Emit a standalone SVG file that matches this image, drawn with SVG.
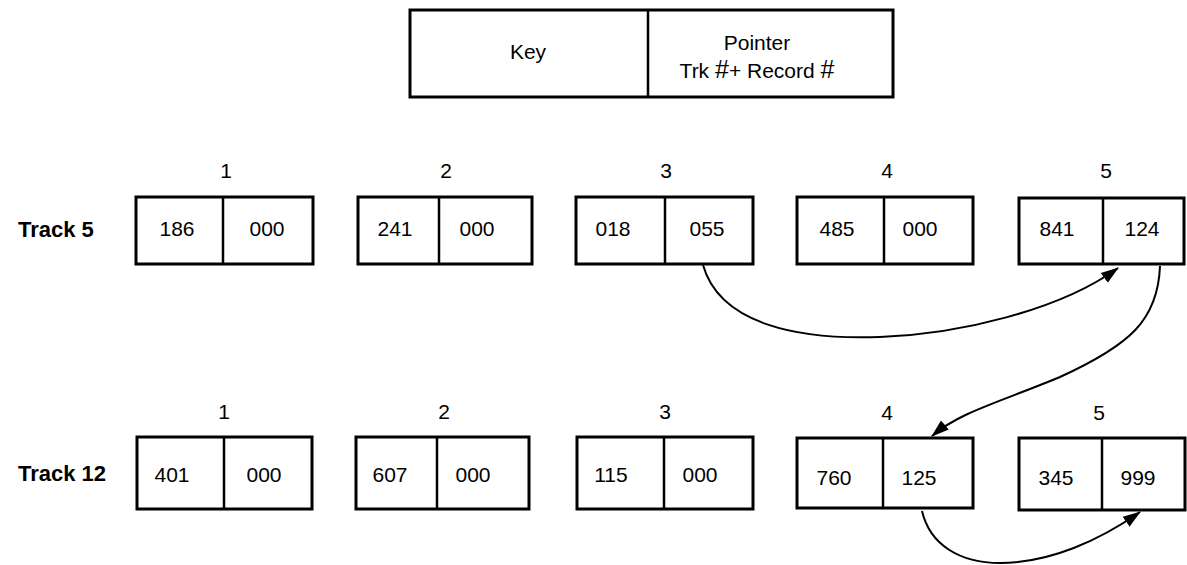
<svg xmlns="http://www.w3.org/2000/svg" width="1187" height="565" viewBox="0 0 1187 565">
  <style>
    .box { fill: #fff; stroke: #000; stroke-width: 3; }
    .div { stroke: #000; stroke-width: 2.5; }
    .t { font-family: "Liberation Sans", Arial, sans-serif; font-size: 21px; fill: #000; text-anchor: middle; }
    .hash { font-size: 25px; }
    .lbl { font-family: "Liberation Sans", Arial, sans-serif; font-size: 22px; font-weight: bold; fill: #000; }
    .link { fill: none; stroke: #000; stroke-width: 2; }
  </style>
  <defs>
    <marker id="arrow" markerUnits="userSpaceOnUse" markerWidth="20" markerHeight="14" refX="17" refY="7" orient="auto">
      <path d="M0,1 L18,7 L0,13 Z" fill="#000"/>
    </marker>
  </defs>
  <rect width="1187" height="565" fill="#fff"/>

  <!-- record layout legend -->
  <g id="legend">
    <rect class="box" x="410" y="10" width="483" height="87"/>
    <line class="div" x1="648" y1="10" x2="648" y2="97"/>
    <text class="t" x="528" y="59">Key</text>
    <text class="t" x="757" y="50">Pointer</text>
    <text class="t" x="757" y="78">Trk <tspan class="hash">#</tspan>+ Record <tspan class="hash">#</tspan></text>
  </g>

  <!-- row labels -->
  <g id="track5-label"><text class="lbl" x="18" y="237">Track 5</text></g>
  <g id="track12-label"><text class="lbl" x="18" y="481">Track 12</text></g>

  <!-- Track 5 records -->
  <g id="t5r1">
    <text class="t" x="226" y="178">1</text>
    <rect class="box" x="136" y="197" width="177" height="67"/>
    <line class="div" x1="223" y1="197" x2="223" y2="264"/>
    <text class="t" x="177" y="236">186</text>
    <text class="t" x="267" y="236">000</text>
  </g>
  <g id="t5r2">
    <text class="t" x="446" y="178">2</text>
    <rect class="box" x="358" y="197" width="174" height="67"/>
    <line class="div" x1="439" y1="197" x2="439" y2="264"/>
    <text class="t" x="395" y="236">241</text>
    <text class="t" x="477" y="236">000</text>
  </g>
  <g id="t5r3">
    <text class="t" x="666" y="178">3</text>
    <rect class="box" x="576" y="197" width="177" height="67"/>
    <line class="div" x1="665" y1="197" x2="665" y2="264"/>
    <text class="t" x="613" y="236">018</text>
    <text class="t" x="707" y="236">055</text>
  </g>
  <g id="t5r4">
    <text class="t" x="887" y="178">4</text>
    <rect class="box" x="797" y="197" width="176" height="67"/>
    <line class="div" x1="884" y1="197" x2="884" y2="264"/>
    <text class="t" x="837" y="236">485</text>
    <text class="t" x="920" y="236">000</text>
  </g>
  <g id="t5r5">
    <text class="t" x="1106" y="178">5</text>
    <rect class="box" x="1019" y="198" width="165" height="66"/>
    <line class="div" x1="1103" y1="198" x2="1103" y2="264"/>
    <text class="t" x="1057" y="236">841</text>
    <text class="t" x="1142" y="236">124</text>
  </g>

  <!-- Track 12 records -->
  <g id="t12r1">
    <text class="t" x="224" y="419">1</text>
    <rect class="box" x="137" y="437" width="175" height="72"/>
    <line class="div" x1="224" y1="437" x2="224" y2="509"/>
    <text class="t" x="172" y="482">401</text>
    <text class="t" x="264" y="482">000</text>
  </g>
  <g id="t12r2">
    <text class="t" x="444" y="419">2</text>
    <rect class="box" x="356" y="437" width="173" height="72"/>
    <line class="div" x1="437" y1="437" x2="437" y2="509"/>
    <text class="t" x="390" y="482">607</text>
    <text class="t" x="473" y="482">000</text>
  </g>
  <g id="t12r3">
    <text class="t" x="665" y="419">3</text>
    <rect class="box" x="577" y="437" width="176" height="72"/>
    <line class="div" x1="664" y1="437" x2="664" y2="509"/>
    <text class="t" x="611" y="482">115</text>
    <text class="t" x="700" y="482">000</text>
  </g>
  <g id="t12r4">
    <text class="t" x="887" y="420">4</text>
    <rect class="box" x="797" y="438" width="176" height="70"/>
    <line class="div" x1="883" y1="438" x2="883" y2="508"/>
    <text class="t" x="834" y="485">760</text>
    <text class="t" x="919" y="485">125</text>
  </g>
  <g id="t12r5">
    <text class="t" x="1099" y="420">5</text>
    <rect class="box" x="1019" y="438" width="166" height="72"/>
    <line class="div" x1="1102" y1="438" x2="1102" y2="510"/>
    <text class="t" x="1056" y="485">345</text>
    <text class="t" x="1138" y="485">999</text>
  </g>

  <!-- pointer chains -->
  <g id="connectors">
    <path class="link" d="M703,265 C720,325 800,340 880,337 C960,334 1060,310 1118,268" marker-end="url(#arrow)"/>
    <path class="link" d="M1160,266 C1158,320 1130,345 1060,377 C1000,402 960,412 932,436" marker-end="url(#arrow)"/>
    <path class="link" d="M922,511 C930,545 960,563 1000,563 C1050,563 1100,540 1140,512" marker-end="url(#arrow)"/>
  </g>
</svg>
